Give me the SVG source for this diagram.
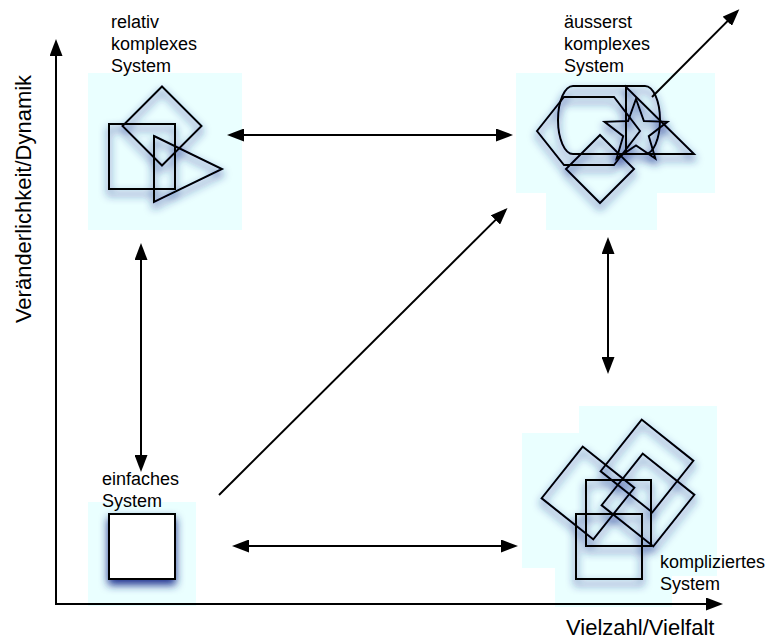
<svg xmlns="http://www.w3.org/2000/svg" width="768" height="642" viewBox="0 0 768 642">
  <style>
    .bg { fill: #eaffff; stroke: none; }
    .shape { fill: none; stroke: #000; stroke-width: 2; stroke-linejoin: miter; }
    .label { font-family: "Liberation Sans", Arial, Helvetica, sans-serif; font-size: 18px; fill: #000; }
    .axis-label { font-family: "Liberation Sans", Arial, Helvetica, sans-serif; font-size: 22px; fill: #000; }
    .conn { fill: none; stroke: #000; stroke-width: 2; }
  </style>
  <defs>
    <marker id="arrow" viewBox="0 0 17 13" refX="14" refY="6.5" markerWidth="17" markerHeight="13"
            markerUnits="userSpaceOnUse" orient="auto-start-reverse">
      <path d="M0,0 L17,6.5 L0,13 z" fill="#000"/>
    </marker>
    <!-- soft blue drop shadow used by all shape clusters -->
    <filter id="shade" x="-30%" y="-30%" width="160%" height="170%">
      <feGaussianBlur in="SourceAlpha" stdDeviation="4.5"/>
      <feOffset dy="5" result="blur"/>
      <feFlood flood-color="#1f3290" flood-opacity="1"/>
      <feComposite in2="blur" operator="in"/>
      <feMerge>
        <feMergeNode/>
        <feMergeNode in="SourceGraphic"/>
      </feMerge>
    </filter>
  </defs>

  <rect width="768" height="642" fill="#fff"/>

  <!-- shadow areas behind the shape clusters -->
  <rect class="bg" x="88" y="73" width="154" height="157"/>
  <path class="bg" d="M516,73 H715 V193 H657 V230 H546 V193 H516 Z"/>
  <rect class="bg" x="88" y="502" width="108" height="104"/>
  <path class="bg" d="M579,406 H717 V576 H672 V607 H555 V568 H522 V433 H579 Z"/>

  <!-- axes -->
  <g id="axes">
    <line class="conn" x1="56" y1="604" x2="56" y2="42" marker-end="url(#arrow)"/>
    <line class="conn" x1="55" y1="604" x2="720" y2="604" marker-end="url(#arrow)"/>
    <text class="axis-label" transform="translate(31,199) rotate(-90)" text-anchor="middle">Veränderlichkeit/Dynamik</text>
    <text class="axis-label" x="566" y="635">Vielzahl/Vielfalt</text>
  </g>

  <!-- simple system -->
  <g id="einfaches-system">
    <rect x="109" y="514" width="66" height="65" fill="#fff" stroke="#000" stroke-width="2" filter="url(#shade)"/>
    <text class="label" x="102" y="485">einfaches</text>
    <text class="label" x="102" y="507">System</text>
  </g>

  <!-- relatively complex system -->
  <g id="relativ-komplexes-system">
    <g filter="url(#shade)">
      <rect class="shape" x="109" y="124" width="66" height="65"/>
      <polygon class="shape" points="162,86.5 201.5,126 162,165.5 122.5,126"/>
      <polygon class="shape" points="154,136 222,169 154,202"/>
    </g>
    <text class="label" x="111" y="28">relativ</text>
    <text class="label" x="111" y="50">komplexes</text>
    <text class="label" x="111" y="72">System</text>
  </g>

  <!-- extremely complex system -->
  <g id="aeusserst-komplexes-system">
    <g filter="url(#shade)">
      <rect class="shape" x="558" y="86" width="102" height="68" rx="15" ry="34"/>
      <polygon class="shape" points="537,131 564,97 614,97 640,131 614,165 564,165"/>
      <polygon class="shape" points="600,135 634,169 600,203 566,169"/>
      <polygon class="shape" points="626,87 694,154 626,154"/>
      <polygon class="shape" points="636,99 643.9,121.1 667.4,121.8 648.8,136.2 655.4,158.7 636,145.5 616.6,158.7 623.2,136.2 604.6,121.8 628.1,121.1"/>
    </g>
    <text class="label" x="564" y="28">äusserst</text>
    <text class="label" x="564" y="50">komplexes</text>
    <text class="label" x="564" y="72">System</text>
  </g>

  <!-- complicated system -->
  <g id="kompliziertes-system">
    <g filter="url(#shade)">
      <rect class="shape" x="-33" y="-33" width="66" height="66" transform="translate(588,493) rotate(38.5)"/>
      <rect class="shape" x="-33" y="-33" width="66" height="66" transform="translate(647,466) rotate(38.5)"/>
      <rect class="shape" x="-33" y="-33" width="66" height="66" transform="translate(648,500) rotate(38.5)"/>
      <rect class="shape" x="586" y="480" width="65" height="66"/>
      <rect class="shape" x="576" y="514" width="66" height="65"/>
    </g>
    <text class="label" x="660" y="568">kompliziertes</text>
    <text class="label" x="660" y="590">System</text>
  </g>

  <!-- connectors -->
  <g id="connectors">
    <line class="conn" x1="230" y1="135" x2="510" y2="135" marker-start="url(#arrow)" marker-end="url(#arrow)"/>
    <line class="conn" x1="141" y1="246" x2="141" y2="469" marker-start="url(#arrow)" marker-end="url(#arrow)"/>
    <line class="conn" x1="608" y1="240" x2="608" y2="371" marker-start="url(#arrow)" marker-end="url(#arrow)"/>
    <line class="conn" x1="235" y1="546" x2="515" y2="546" marker-start="url(#arrow)" marker-end="url(#arrow)"/>
    <line class="conn" x1="219" y1="495" x2="505.4" y2="210.1" marker-end="url(#arrow)"/>
    <line class="conn" x1="652" y1="97" x2="737.2" y2="11.4" marker-end="url(#arrow)"/>
  </g>
</svg>
